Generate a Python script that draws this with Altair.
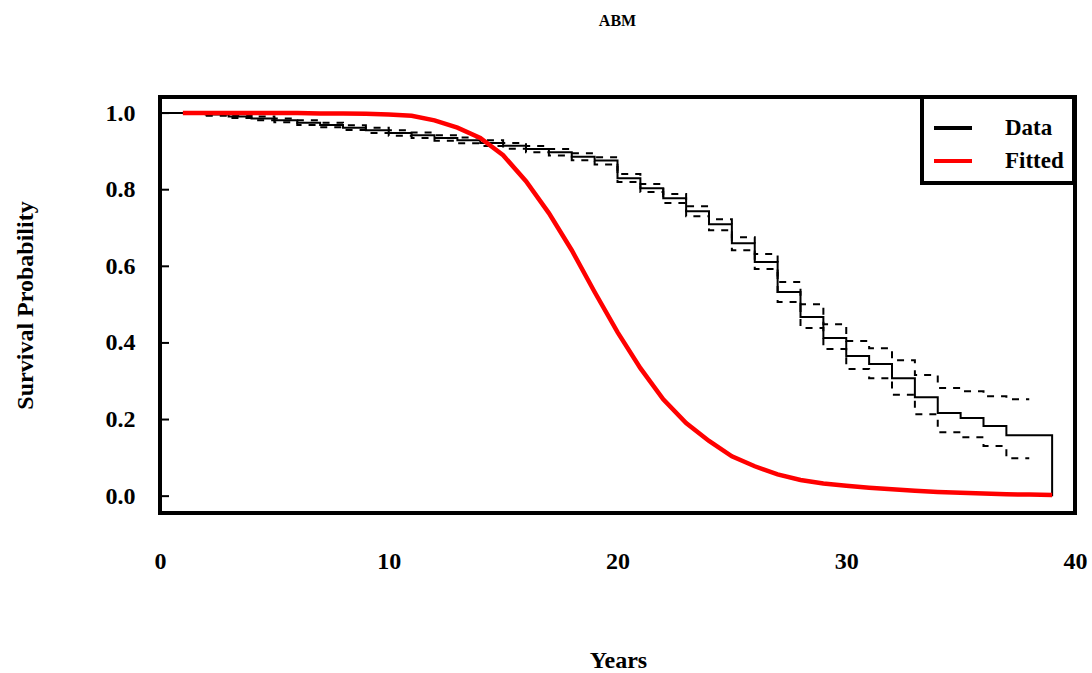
import altair as alt
import pandas as pd

# Kaplan-Meier estimate (value held from each year until the next one)
km_years = [0, 2, 3, 4, 5, 6, 7, 8, 9, 10, 11, 12, 13, 14, 15, 16, 17, 18, 19,
            20, 21, 22, 23, 24, 25, 26, 27, 28, 29, 30, 31, 32, 33, 34, 35, 36, 37, 39]
km_surv = [1.000, 0.996, 0.991, 0.986, 0.981, 0.975, 0.969, 0.962, 0.955, 0.948,
           0.942, 0.935, 0.929, 0.922, 0.915, 0.906, 0.898, 0.886, 0.876,
           0.830, 0.804, 0.778, 0.744, 0.710, 0.660, 0.611, 0.533, 0.468, 0.413,
           0.366, 0.345, 0.308, 0.258, 0.217, 0.204, 0.183, 0.159, 0.000]

# Confidence limits of the estimate
band_years = [2, 3, 4, 5, 6, 7, 8, 9, 10, 11, 12, 13, 14, 15, 16, 17, 18, 19, 20,
              21, 22, 23, 24, 25, 26, 27, 28, 29, 30, 31, 32, 33, 34, 35, 36, 37, 38]
band_upper = [0.999, 0.995, 0.991, 0.986, 0.981, 0.975, 0.968, 0.962, 0.955, 0.949,
              0.942, 0.936, 0.929, 0.922, 0.914, 0.906, 0.895, 0.885, 0.841,
              0.815, 0.789, 0.757, 0.723, 0.676, 0.632, 0.559, 0.501, 0.449, 0.405,
              0.386, 0.355, 0.316, 0.282, 0.274, 0.261, 0.253, 0.253]
band_lower = [0.993, 0.987, 0.981, 0.976, 0.969, 0.963, 0.956, 0.948, 0.941, 0.935,
              0.928, 0.921, 0.914, 0.907, 0.898, 0.889, 0.877, 0.866, 0.820,
              0.794, 0.765, 0.731, 0.694, 0.642, 0.593, 0.507, 0.439, 0.384, 0.332,
              0.308, 0.265, 0.214, 0.167, 0.154, 0.131, 0.099, 0.099]

# Fitted survival curve
fit_years = list(range(1, 40))
fit_surv = [1.000, 1.000, 1.000, 1.000, 1.000, 1.000, 0.999, 0.999, 0.998, 0.996,
            0.993, 0.981, 0.962, 0.935, 0.890, 0.822, 0.739, 0.642, 0.533, 0.428,
            0.334, 0.253, 0.191, 0.144, 0.104, 0.078, 0.057, 0.042, 0.033, 0.027,
            0.022, 0.018, 0.014, 0.011, 0.009, 0.007, 0.005, 0.004, 0.003]

y_ticks = [0.0, 0.2, 0.4, 0.6, 0.8, 1.0]
x_ticks = [0, 10, 20, 30, 40]

km_df = pd.DataFrame({"year": km_years, "p": km_surv, "series": "Data"})
fit_df = pd.DataFrame({"year": fit_years, "p": fit_surv, "series": "Fitted"})
band_df = pd.concat([
    pd.DataFrame({"year": band_years, "p": band_upper, "bound": "upper"}),
    pd.DataFrame({"year": band_years, "p": band_lower, "bound": "lower"}),
])
tick_df = pd.DataFrame({"p": y_ticks})

FONT = "Liberation Serif"

x_enc = alt.X(
    "year:Q",
    scale=alt.Scale(domain=[0, 40], nice=False, zero=False),
    axis=alt.Axis(values=x_ticks, format="d", labelPadding=36, labelFlush=False,
                  title="Years", titleX=458, titleY=147, titleBaseline="middle"),
)
y_enc = alt.Y(
    "p:Q",
    scale=alt.Scale(domain=[-0.044, 1.042], nice=False, zero=False),
    axis=alt.Axis(values=y_ticks, format=".1f", labelPadding=25,
                  title="Survival Probability", titleAngle=-90, titleX=-135,
                  titleY=208, titleAlign="center", titleBaseline="middle"),
)
color_enc = alt.Color(
    "series:N",
    scale=alt.Scale(domain=["Data", "Fitted"], range=["black", "#ff0000"]),
    legend=alt.Legend(title=None),
)

bands = alt.Chart(band_df).mark_line(
    interpolate="step-after", color="black", strokeWidth=2, strokeDash=[7, 7]
).encode(x=x_enc, y=y_enc, detail="bound:N")

km = alt.Chart(km_df).mark_line(
    interpolate="step-after", strokeWidth=2
).encode(x=x_enc, y=y_enc, color=color_enc)

fitted = alt.Chart(fit_df).mark_line(strokeWidth=4.5).encode(
    x=x_enc, y=y_enc, color=color_enc
)

# inward tick marks on the probability axis
ticks = alt.Chart(tick_df).mark_rule(color="black", strokeWidth=2).encode(
    x=alt.value(0), x2=alt.value(9), y=y_enc
)

chart = (
    alt.layer(bands, km, fitted, ticks)
    .properties(
        width=915,
        height=416,
        autosize=alt.AutoSizeParams(type="none"),
        padding={"left": 160, "top": 97, "right": 17, "bottom": 160},
        title=alt.TitleParams(text="ABM", font=FONT, fontSize=16, fontWeight="bold",
                              anchor="middle", baseline="alphabetic", offset=53,
                              color="black"),
    )
    .configure_view(stroke="black", strokeWidth=4)
    .configure_axis(grid=False, domain=False, ticks=False, labelFont=FONT,
                    labelFontWeight="bold", labelFontSize=24, labelColor="black",
                    titleFont=FONT, titleFontWeight="bold", titleFontSize=24,
                    titleColor="black")
    .configure_legend(orient="none", legendX=762, legendY=0, strokeColor="black",
                      strokeWidth=4, padding=10, symbolType="stroke",
                      symbolSize=1444, symbolStrokeWidth=4, labelFont=FONT,
                      labelFontWeight="bold", labelFontSize=23, labelColor="black",
                      labelOffset=31, rowPadding=0, fillColor="white")
)

chart.save("out.html", embed_options={"renderer": "svg", "actions": False})
